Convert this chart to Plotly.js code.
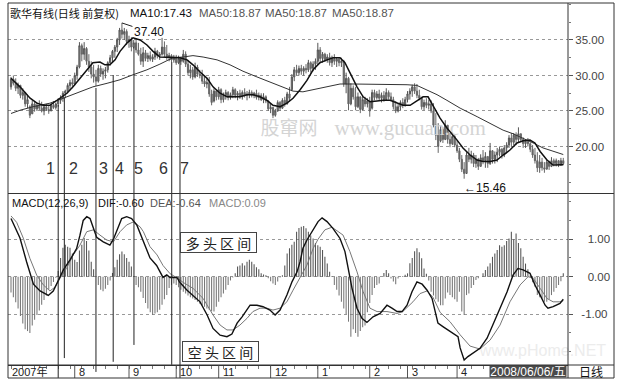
<!DOCTYPE html>
<html>
<head>
<meta charset="utf-8">
<script src="https://cdn.plot.ly/plotly-3.0.1.min.js"></script>
<style>html,body{margin:0;padding:0;background:#fff}#chart{width:617px;height:387px}</style>
</head>
<body>
<div id="chart"></div>
<script>
// ---------------- DATA ----------------
// daily candles, index 0 = late June 2007 ... index 234 = 2008/06/06
const openP = [
28.4,29.5,28.9,28.2,28.6,27.2,27.6,26.0,25.6,24.6,
26.0,25.3,25.8,25.4,25.0,25.6,25.2,25.0,25.8,25.5,
26.0,26.5,26.8,27.5,27.8,28.6,29.0,28.8,30.0,31.2,
34.2,33.0,33.8,32.0,31.2,30.2,29.8,29.2,31.0,30.2,
30.6,30.8,31.8,32.5,33.4,34.0,35.0,36.4,35.8,36.2,
34.8,35.0,34.0,34.6,33.6,33.0,32.0,33.2,32.4,32.8,
32.3,32.6,33.4,32.8,33.0,34.0,33.0,32.6,32.8,32.2,
32.6,31.8,32.4,32.0,33.0,31.6,30.4,30.8,29.8,31.2,
30.2,30.0,29.2,28.8,29.0,27.4,26.4,27.8,27.0,28.0,
26.6,27.2,27.6,26.9,27.3,28.0,27.2,27.5,27.0,27.6,
27.2,27.4,27.6,27.2,27.5,26.9,27.2,26.6,27.0,26.4,
25.3,25.5,24.4,25.0,26.2,25.4,26.5,26.0,27.4,28.0,
29.8,30.8,30.4,31.0,30.6,31.0,30.8,31.8,31.0,31.6,
32.0,33.6,32.4,33.0,32.2,32.6,31.8,32.4,32.0,32.3,
31.8,32.0,28.8,29.6,26.0,28.2,27.0,25.6,27.0,25.2,
26.6,26.0,26.4,25.4,27.6,26.9,27.4,26.8,27.2,26.6,
27.6,27.0,26.6,25.6,25.0,25.6,26.2,25.8,26.6,27.4,
27.8,28.4,27.8,27.2,26.8,25.6,26.2,25.8,26.0,25.0,
23.0,21.6,20.8,22.4,21.0,23.0,21.0,20.4,21.4,20.2,
19.4,18.2,16.8,16.2,18.8,18.2,18.8,17.6,18.2,17.2,
18.4,18.0,18.6,17.6,19.4,18.2,18.8,19.2,19.6,18.8,
19.8,20.2,21.2,20.6,21.6,21.0,21.8,21.0,20.4,20.8,
20.4,19.6,18.8,18.0,17.0,17.8,17.0,16.8,17.8,17.2,
18.0,17.6,18.0,17.4,18.0];
const highP = [
29.8,30.0,29.6,29.0,28.7,28.2,27.7,27.3,25.8,26.5,
26.4,26.2,26.5,26.3,25.9,26.0,25.8,26.1,26.4,26.2,
26.8,27.2,27.8,28.0,28.9,29.4,29.6,30.4,31.5,34.7,
34.5,34.7,34.0,33.0,32.0,31.5,30.8,31.5,31.4,31.0,
31.2,32.0,32.9,33.6,34.3,35.3,36.7,37.4,36.7,36.5,
35.6,35.4,35.0,35.2,34.6,33.9,34.0,33.6,33.2,33.4,
33.0,33.9,33.6,33.3,35.3,34.8,34.3,33.2,33.0,32.9,
32.9,32.8,32.6,33.6,33.4,32.2,31.5,31.2,31.8,31.5,
30.8,30.8,30.0,29.6,29.8,28.0,28.2,28.0,28.4,28.2,
27.6,28.0,27.8,27.6,28.4,28.2,27.8,28.0,27.9,28.2,
27.8,28.0,27.9,27.7,28.0,27.6,27.5,27.5,27.2,26.5,
26.0,25.6,25.3,26.5,26.4,26.8,27.0,27.7,28.4,30.2,
31.2,31.5,31.4,31.5,31.3,31.6,32.2,32.0,32.0,32.4,
34.6,34.0,33.3,33.2,33.0,33.2,32.8,33.0,32.6,32.6,
32.5,32.2,30.4,29.8,28.9,28.6,28.4,27.6,27.0,27.2,
27.0,26.8,27.0,28.0,28.0,27.8,28.0,27.6,27.8,28.2,
27.9,27.6,27.0,26.4,26.0,26.5,26.8,27.0,27.8,28.2,
28.7,28.9,28.8,28.0,27.0,26.6,26.8,26.6,26.5,26.1,
24.7,23.3,22.9,22.7,23.7,23.0,21.9,22.0,21.6,20.9,
19.8,18.8,17.8,19.2,19.8,19.4,19.1,18.8,18.4,18.9,
19.5,19.2,18.6,20.5,19.5,19.3,19.8,20.0,19.8,20.2,
20.6,21.6,21.9,21.9,22.0,22.7,21.8,21.3,21.0,21.2,
20.6,20.2,19.8,19.2,18.8,18.4,17.8,18.2,18.0,18.5,
18.3,18.3,18.1,18.4,18.4];
const lowP = [
28.0,28.6,27.8,27.4,26.8,26.6,25.6,25.4,24.0,24.6,
24.9,25.0,25.1,24.8,24.4,25.0,24.6,25.0,25.3,25.2,
25.6,26.0,26.3,26.8,27.5,27.9,28.2,28.6,29.4,31.0,
32.0,32.2,31.5,30.5,29.6,29.0,28.5,29.0,29.8,29.4,
29.6,30.4,31.4,31.9,32.5,33.3,34.3,35.2,35.0,34.3,
33.9,33.4,33.8,33.2,32.8,31.5,31.2,32.0,31.9,32.0,
31.9,32.2,32.4,32.2,32.8,32.6,32.2,32.0,31.9,31.8,
31.5,31.6,31.5,31.8,31.2,30.0,29.6,29.4,29.6,29.8,
29.6,28.8,28.4,28.2,27.0,25.8,26.2,26.5,26.6,26.1,
26.2,26.6,26.5,26.6,26.8,26.8,26.5,26.7,26.6,26.9,
26.5,26.8,26.9,26.8,26.6,26.5,26.4,26.1,26.1,25.0,
24.7,24.0,24.2,24.9,25.0,25.3,25.6,25.9,26.3,27.8,
29.2,30.0,30.0,30.1,30.0,30.3,30.5,30.4,30.6,30.8,
31.5,31.9,31.8,31.9,31.8,31.4,31.2,31.5,31.2,31.3,
31.2,28.4,27.5,25.1,25.8,26.6,25.1,25.4,24.7,25.1,
25.6,25.5,24.2,25.2,26.5,26.6,26.4,26.2,26.3,26.5,
26.6,26.4,25.2,24.7,24.8,25.1,25.4,25.6,26.2,26.6,
27.0,27.4,26.8,26.5,25.2,25.1,25.4,25.2,24.7,22.7,
20.9,19.1,20.6,20.5,20.9,20.4,19.9,20.2,19.9,19.1,
17.8,16.4,15.46,16.2,17.8,17.6,17.1,17.0,16.7,17.2,
17.5,17.0,17.0,17.4,17.6,17.6,17.8,18.6,18.3,18.5,
19.0,19.8,19.9,20.2,20.2,20.5,20.6,19.8,19.8,20.0,
19.2,18.4,17.6,16.4,16.3,16.6,16.3,16.8,16.7,17.1,
17.2,17.2,17.1,17.3,17.4];
const closeP = [
29.5,28.9,28.2,28.6,27.2,27.6,26.0,26.6,24.4,26.0,
25.3,25.8,25.4,25.0,25.6,25.2,25.0,25.8,25.5,26.0,
26.5,26.8,27.5,27.8,28.6,29.0,28.8,30.0,31.2,34.2,
33.0,33.8,32.0,31.2,30.2,29.8,29.2,31.0,30.2,30.6,
30.8,31.8,32.5,33.4,34.0,35.0,36.4,35.8,36.2,34.8,
35.0,34.0,34.6,33.6,33.0,32.0,33.2,32.4,32.8,32.3,
32.6,33.4,32.8,33.0,34.0,33.0,32.6,32.8,32.2,32.6,
31.8,32.4,32.0,33.0,31.6,30.4,30.8,29.8,31.2,30.2,
30.0,29.2,28.8,29.0,27.4,26.2,27.8,27.0,28.0,26.6,
27.2,27.6,26.9,27.3,28.0,27.2,27.5,27.0,27.6,27.2,
27.4,27.6,27.2,27.5,26.9,27.2,26.6,27.0,26.4,25.3,
25.5,24.4,25.0,26.2,25.4,26.5,26.0,27.4,26.8,29.8,
30.8,30.4,31.0,30.6,31.0,30.8,31.8,31.0,31.6,32.0,
33.6,32.4,33.0,32.2,32.6,31.8,32.4,32.0,32.3,31.8,
32.0,28.8,29.6,26.0,28.2,27.0,25.6,27.0,25.2,26.6,
26.0,26.4,25.0,27.6,26.9,27.4,26.8,27.2,26.6,27.6,
27.0,26.6,25.6,25.0,25.6,26.2,25.8,26.6,27.4,27.8,
28.4,27.8,27.2,26.8,25.6,26.2,25.8,26.0,25.0,23.0,
21.6,20.0,22.4,21.0,23.0,21.0,20.4,21.4,20.2,19.4,
18.2,16.8,16.2,18.8,18.2,18.8,17.6,18.2,17.2,18.4,
18.0,18.6,17.6,19.4,18.2,18.8,19.2,19.6,18.8,19.8,
20.2,21.2,20.6,21.6,21.0,21.8,21.0,20.4,20.8,20.4,
19.6,18.8,18.0,17.0,17.8,17.0,16.8,17.8,17.2,18.0,
17.6,18.0,17.4,18.0,17.6];

// moving averages (index, value)
const ma10X = [0,3.8,8.1,11,13.6,16.5,18.6,20.8,23.7,26.3,29.2,32.2,34.7,37.7,39.8,41.9,44.1,46.2,49.2,51.7,54.7,57.6,60.2,63.1,67.4,71.6,74.6,77.1,80.1,83.1,85.6,88.6,91.5,94.1,97,100,102.5,105.5,108.5,111,114,116.9,119.5,122.5,125.4,128,130.9,133.9,136.4,139.4,141.5,143.6,146.6,149.2,152.1,155.1,157.6,160.6,163.6,166.1,169.1,172,174.6,176.7,178.8,181.8,184.7,187.3,189,191.5,194.5,197.5,200,203,205.9,208.5,211.4,214.4,217,219.9,222,224.2,227.1,229.7,232.6,234];
const ma10Y = [29.6,28.4,26.8,26.1,25.8,25.8,26.3,26.8,27.5,28.4,29.6,30.8,31.8,31.9,31.5,31.5,32.2,33.4,34.6,35.3,35.0,34.3,33.4,32.6,32.5,32.5,32.2,31.5,30.5,29.6,28.4,27.5,27.0,27.0,27.0,27.3,27.3,27.0,26.5,25.8,25.6,26.1,26.8,28.0,29.3,30.8,31.8,32.2,32.5,32.5,31.8,30.4,28.4,27.0,26.3,26.4,26.5,26.5,26.1,25.8,25.8,26.5,27.0,27.0,25.8,24.0,22.6,21.6,20.9,19.8,18.8,18.1,17.9,17.9,18.1,18.8,19.5,20.5,20.8,20.9,20.5,19.3,18.1,17.4,17.4,17.43];
const ma50X = [0,3.8,9.3,16.5,23.7,29.2,34.7,40.7,46.2,51.7,57.6,63.1,68.6,72.9,77.1,81.4,87.3,92.8,98.3,104.2,109.7,115.3,119.5,123.7,128,133.9,139.4,144.9,150.8,156.4,161.9,167.8,172,176.3,180.5,184.7,190.3,197.5,203,208.5,212.7,217,221.2,225.4,229.7,234];
const ma50Y = [24.65,25.1,25.6,26.1,27.0,27.7,28.4,28.9,29.4,30.1,30.8,31.6,32.5,32.6,32.8,32.6,32.2,31.5,30.6,29.8,29.1,28.4,27.8,27.7,28.0,28.4,28.8,28.8,28.8,28.7,28.8,28.7,28.6,28.0,27.3,26.5,25.4,24.2,23.3,22.3,21.8,21.2,20.5,19.8,19.3,18.87];

// MACD(12,26,9)
const macdHist = [
-0.42,-0.55,-0.68,-0.85,-1.05,-1.25,-1.4,-1.45,-1.5,-1.3,
-1.15,-1.02,-0.9,-0.75,-0.62,-0.5,-0.35,-0.25,-0.14,-0.03,
0.15,0.5,0.77,0.85,0.8,0.77,0.62,0.45,0.39,0.7,
0.85,1.03,0.95,0.7,0.4,0.2,0.02,-0.22,-0.35,-0.39,
-0.32,-0.22,-0.1,0.1,0.25,0.45,0.6,0.67,0.6,0.5,
0.4,0.27,0.02,-0.22,-0.28,-0.4,-0.57,-0.7,-0.85,-0.95,
-1.02,-0.98,-0.95,-0.88,-0.75,-0.6,-0.49,-0.3,-0.22,-0.18,
-0.22,-0.28,-0.35,-0.4,-0.45,-0.5,-0.55,-0.58,-0.62,-0.67,
-0.72,-0.76,-0.8,-0.85,-0.88,-0.92,-0.93,-0.8,-0.67,-0.55,
-0.45,-0.35,-0.22,-0.1,-0.02,0.09,0.27,0.3,0.36,0.3,
0.4,0.45,0.4,0.33,0.25,0.2,0.09,0.06,0.04,-0.04,
-0.12,-0.18,-0.22,-0.13,-0.02,0.04,0.3,0.62,0.76,0.85,
0.93,1.2,1.3,1.33,1.35,1.29,1.2,1.1,1.02,0.9,
0.84,0.8,0.71,0.53,0.35,0.13,0.02,-0.22,-0.35,-0.5,
-0.67,-0.85,-1.0,-1.2,-1.6,-1.4,-1.5,-1.6,-1.45,-1.35,
-1.3,-0.95,-0.7,-0.49,-0.3,-0.22,-0.18,0.0,0.1,0.18,
0.09,-0.05,-0.13,-0.2,-0.05,0.0,0.02,0.05,0.09,0.36,
0.5,0.68,0.76,0.65,0.49,0.22,0.08,-0.1,-0.4,-0.5,
-0.6,-0.67,-0.76,-0.76,-0.58,-0.42,-0.49,-0.55,-0.6,-0.67,
-0.4,-0.93,-1.02,-0.49,-0.45,-0.3,-0.22,-0.09,-0.04,0.0,
0.09,0.18,0.27,0.36,0.53,0.62,0.71,0.84,0.8,0.84,
0.95,1.02,1.2,1.0,1.15,0.9,0.76,0.53,0.35,0.2,
0.04,-0.15,-0.27,-0.49,-0.55,-0.58,-0.67,-0.67,-0.6,-0.49,
-0.4,-0.3,-0.22,-0.12,0.09];
const difX = [0,3.8,6.6,9.5,12.3,15.8,17.9,20,22.2,25,27.8,29.2,30.6,32.1,33.5,34.9,36.3,39.1,41.9,43.4,44.8,46.9,49,51.1,53.3,56.1,58.9,61.7,63.1,64.4,66,67.4,70.3,71.5,74.6,77.1,80.1,83.1,85.6,88.6,91.5,93.6,95.8,97.9,100,101.3,104.2,106.8,109.7,111.9,114,116.9,119.1,121.2,122.5,123.7,125.4,128,130.1,131.8,133.9,136.4,139.4,141.5,142.8,144.5,146.6,148.7,150.8,152.1,153.4,156.4,159.3,161.4,163.6,165.7,167.8,169.9,172,174.2,176.3,178.4,179.7,180.9,183,185.2,187.3,189.4,190.3,192,193.6,196.6,198.7,201.7,204.2,207.2,210.2,212.7,214.8,217,219.9,222,224.2,226.3,227.5,229.7,232.6,234];
const difY = [1.55,1.03,0.4,-0.2,-0.38,-0.5,-0.38,-0.1,0.18,0.45,0.75,1.1,1.5,1.6,1.55,1.3,1.05,0.93,0.84,1.0,1.2,1.55,1.6,1.55,1.38,0.93,0.5,0.3,0.15,-0.02,0.05,-0.02,-0.02,-0.15,-0.36,-0.49,-0.67,-1.02,-1.38,-1.56,-1.6,-1.53,-1.24,-1.07,-0.89,-0.76,-0.76,-0.8,-0.89,-1.02,-0.89,-0.49,-0.13,0.13,0.4,0.76,0.98,1.24,1.47,1.57,1.47,1.29,1.02,0.67,0.22,-0.31,-0.84,-1.11,-1.22,-1.15,-1.07,-0.98,-0.76,-0.84,-0.93,-0.93,-0.76,-0.4,-0.14,-0.2,-0.36,-0.58,-0.93,-1.24,-1.33,-1.42,-1.5,-1.6,-1.9,-2.22,-2.13,-2.0,-1.91,-1.64,-1.29,-0.84,-0.4,0.04,0.22,0.18,0.09,-0.22,-0.49,-0.76,-0.84,-0.8,-0.71,-0.6];
const deaX = [0,2.4,5.2,8.0,10.9,13.7,16.5,18.6,20.7,23.5,26.4,29.2,32.1,34.9,37.7,40.5,43.4,46.2,49,51.8,54.7,56.1,58.9,61.9,64.4,67.4,70.3,72.9,77.1,81.4,85.6,88.6,91.5,94.1,97,100,102.5,105.5,108.5,111,114,116.9,119.5,122.5,125.4,128,130.1,133,136,140.7,143.6,146.6,149.2,152.1,155.1,159.3,163.6,166,170.3,173.3,176.3,178.8,181.8,186,190.3,194.5,198.7,203,207.2,211.4,215.7,219.1,221.2,224.2,227.1,229.7,232.6,234];
const deaY = [1.62,1.45,1.03,0.49,0.04,-0.22,-0.38,-0.28,-0.05,0.22,0.58,0.84,1.2,1.25,1.11,0.98,0.93,1.2,1.38,1.46,1.33,1.2,0.8,0.58,0.3,0.08,-0.03,-0.15,-0.31,-0.58,-1.02,-1.29,-1.42,-1.42,-1.29,-1.11,-0.93,-0.84,-0.84,-0.89,-0.84,-0.67,-0.36,0,0.31,0.75,1.0,1.25,1.32,1.11,0.67,0.13,-0.4,-0.84,-0.93,-0.93,-0.98,-0.93,-0.67,-0.45,-0.38,-0.55,-0.95,-1.2,-1.55,-1.85,-1.93,-1.69,-1.29,-0.67,-0.22,0,-0.04,-0.31,-0.58,-0.67,-0.67,-0.64];

// axis / calendar labels
const monthIdx  = [0, 27, 50, 70, 88, 110, 130, 152, 168, 189];
const monthText = ['2007年','8','9','10','11','12','1','2','3','4'];
const lastDateText = '2008/06/06/五';
const priceTicks = [20, 25, 30, 35];
const macdTicks  = [-1, 0, 1];

// marked extremes
const highIdx = 47, highVal = 37.40;
const lowIdx = 192, lowVal = 15.46;

// numbered signal lines: day index, top (price), bottom (MACD units)
const signalIdx    = [20.0, 22.6, 36.0, 43.3, 52.1, 68.1, 71.6];
const signalTop    = [25.85, 26.83, 28.24, 30.07, 34.01, 31.9, 32.5];
const signalBottom = [-2.70, -2.17, -2.54, -2.27, -1.82, -2.35, -2.70];
const signalText   = ['1','2','3','4','5','6','7'];

// ---------------- STYLE / LAYOUT ----------------
const FONT = 'Arial, "Liberation Sans", "Noto Sans CJK SC", sans-serif';
const CJK = '"Noto Sans CJK SC", "Noto Sans CJK TC", sans-serif';
const SERIF = '"Liberation Serif", "DejaVu Serif", serif';
const M = {l:8, r:49, t:3, b:9};
const PW = 617 - M.l - M.r, PH = 387 - M.t - M.b;
const px = x => (x - M.l) / PW;          // layout helper: pixel -> paper x
const py = y => (387 - M.b - y) / PH;    // layout helper: pixel -> paper y
const priceRange = [13.38, 40.21];
const macdRange = [-2.355, 2.219];
const splitY = py(193.5), dateTop = py(365);
const signalLabelShift = [-8, 9, 8, 6, 5, -8, 5];

const idx = closeP.map((_, i) => i);
const last = a => a[a.length - 1];

const traces = [
  {type:'scatter', mode:'text', x:[117.8], y:[22.3], text:['股窜网'], xaxis:'x', yaxis:'y',
   textfont:{family:CJK, size:19, color:'#d4d4d4'}, hoverinfo:'skip', cliponaxis:false},
  {type:'scatter', mode:'text', x:[169.1], y:[22.3], text:['www.gucuan.com'], xaxis:'x', yaxis:'y',
   textfont:{family:SERIF, size:21, color:'#d4d4d4'}, hoverinfo:'skip', cliponaxis:false},
  {type:'scatter', mode:'text', x:[225.4], y:[-2.0], text:['www.pHome.NET'], xaxis:'x', yaxis:'y2',
   textfont:{family:FONT, size:16, color:'#ececec'}, hoverinfo:'skip', cliponaxis:false},
  {type:'candlestick', x:idx, open:openP, high:highP, low:lowP, close:closeP, xaxis:'x', yaxis:'y',
   increasing:{line:{color:'#555', width:1}, fillcolor:'#999'},
   decreasing:{line:{color:'#666', width:1}, fillcolor:'#666'},
   whiskerwidth:0, hoverinfo:'skip'},
  {type:'scatter', mode:'lines', x:ma50X, y:ma50Y, xaxis:'x', yaxis:'y',
   line:{color:'#333', width:1}, hoverinfo:'skip'},
  {type:'scatter', mode:'lines', x:ma10X, y:ma10Y, xaxis:'x', yaxis:'y',
   line:{color:'#111', width:1.5}, hoverinfo:'skip'},
  {type:'bar', x:idx, y:macdHist, xaxis:'x', yaxis:'y2', width:0.45,
   marker:{color:macdHist.map(v => v >= 0 ? '#555' : '#777'), line:{width:0}}, hoverinfo:'skip'},
  {type:'scatter', mode:'lines', x:deaX, y:deaY, xaxis:'x', yaxis:'y2',
   line:{color:'#777', width:1}, hoverinfo:'skip'},
  {type:'scatter', mode:'lines', x:difX, y:difY, xaxis:'x', yaxis:'y2',
   line:{color:'#111', width:1.4}, hoverinfo:'skip'}
];

const shapes = [];
// signal lines
signalIdx.forEach((s, k) => {
  shapes.push({type:'line', xref:'x', yref:'y', x0:s, x1:s, y0:signalTop[k], y1:priceRange[0],
               line:{color:'#222', width:1}});
  const frac = (signalBottom[k] - macdRange[0]) / (macdRange[1] - macdRange[0]);
  shapes.push({type:'line', xref:'x', yref:'y2 domain', x0:s, x1:s, y0:1, y1:frac,
               line:{color:'#222', width:1}});
});
// month separators in the date row
monthIdx.slice(1).forEach(m => {
  shapes.push({type:'line', xref:'x', yref:'paper', x0:m, x1:m, y0:0, y1:dateTop,
               line:{color:'#555', width:1}});
});
// frames
const rightEdge = px(614);
shapes.push({type:'rect', xref:'paper', yref:'paper', x0:0, x1:rightEdge, y0:0, y1:1, line:{color:'#333', width:1}});
shapes.push({type:'line', xref:'paper', yref:'paper', x0:1, x1:1, y0:0, y1:1, line:{color:'#333', width:1}});
shapes.push({type:'line', xref:'paper', yref:'paper', x0:0, x1:rightEdge, y0:splitY, y1:splitY, line:{color:'#333', width:1}});
shapes.push({type:'line', xref:'paper', yref:'paper', x0:0, x1:rightEdge, y0:dateTop, y1:dateTop, line:{color:'#333', width:1}});

const ann = [];
const txt = (text, x, y, color, size, family, extra) => Object.assign({
  text, xref:'paper', yref:'paper', x:px(x), y:py(y), xanchor:'left', yanchor:'middle',
  showarrow:false, font:{family:family || FONT, size:size || 11, color:color || '#111'}
}, extra || {});
// price panel header
ann.push(txt('歌华有线(日线 前复权)', 8, 13, '#111', 11, CJK));
ann.push(txt('MA10:' + last(ma10Y).toFixed(2), 128, 13, '#111', 11.5));
ann.push(txt('MA50:' + last(ma50Y).toFixed(2), 197, 13, '#555', 11.5));
ann.push(txt('MA50:' + last(ma50Y).toFixed(2), 263, 13, '#555', 11.5));
ann.push(txt('MA50:' + last(ma50Y).toFixed(2), 330, 13, '#555', 11.5));
// MACD header
ann.push(txt('MACD(12,26,9)', 10, 203, '#111', 11));
ann.push(txt('DIF:' + last(difY).toFixed(2), 96, 203, '#111', 11));
ann.push(txt('DEA:' + last(deaY).toFixed(2), 148, 203, '#555', 11));
ann.push(txt('MACD:' + last(macdHist).toFixed(2), 207, 203, '#888', 11));
// extremes
ann.push({text:highVal.toFixed(2), xref:'x', yref:'y', x:highIdx, y:highVal, showarrow:true,
  arrowhead:0, arrowwidth:1, arrowcolor:'#222', ax:27, ay:9, standoff:0,
  font:{family:FONT, size:12, color:'#111'}});
ann.push({text:'←' + lowVal.toFixed(2), xref:'x', yref:'y', x:lowIdx, y:lowVal, showarrow:false,
  xanchor:'left', yanchor:'top', xshift:-2, yshift:0, font:{family:FONT, size:12, color:'#111'}});
// signal numbers
signalIdx.forEach((s, k) => {
  ann.push({text:signalText[k], xref:'x', yref:'y', x:s, y:16.95, xshift:signalLabelShift[k],
    showarrow:false, font:{family:FONT, size:16, color:'#333'}});
});
// zone boxes
ann.push({text:'多 头 区 间', xref:'x', yref:'y2', x:87.9, y:0.91, showarrow:false,
  width:73, height:17, borderpad:1, bordercolor:'#444', borderwidth:1, bgcolor:'#fff',
  font:{family:CJK, size:14, color:'#222'}});
ann.push({text:'空 头 区 间', xref:'x', yref:'y2', x:88.8, y:-2.0, showarrow:false,
  width:73, height:17, borderpad:1, bordercolor:'#444', borderwidth:1, bgcolor:'#fff',
  font:{family:CJK, size:14, color:'#222'}});
// date row
monthIdx.forEach((m, k) => {
  ann.push({text:monthText[k], xref:'x', yref:'paper', x:m, y:py(371.5), xanchor:'left', yanchor:'middle',
    xshift: k === 0 ? -1 : 2, showarrow:false, font:{family:FONT, size:11, color:'#222'}});
});
ann.push({text:lastDateText, xref:'paper', yref:'paper', x:1, y:py(371.5), xanchor:'right', yanchor:'middle',
  showarrow:false, bgcolor:'#4a4a4a', width:76, height:11, borderpad:0, xshift:-1,
  font:{family:FONT, size:12, color:'#fff'}});
ann.push({text:'日线', xref:'paper', yref:'paper', x:px(591), y:py(371.5), xanchor:'center', yanchor:'middle',
  showarrow:false, font:{family:CJK, size:12, color:'#111'}});

const layout = {
  width:617, height:387, margin:M, paper_bgcolor:'#fff', plot_bgcolor:'#fff',
  showlegend:false, hovermode:false, barmode:'overlay',
  xaxis:{range:[-1.27, 236], anchor:'y2', showgrid:false, zeroline:false, showline:true,
         linecolor:'#333', linewidth:1, ticks:'outside', ticklen:3, tickcolor:'#777', tick0:0, dtick:5,
         showticklabels:false, rangeslider:{visible:false}, fixedrange:true},
  yaxis:{domain:[splitY, 1], range:priceRange, side:'right', anchor:'x',
         tickmode:'array', tickvals:priceTicks, ticktext:priceTicks.map(v => v.toFixed(2)),
         ticks:'outside', ticklen:4, tickcolor:'#555',
         tickfont:{family:FONT, size:11.5, color:'#444'},
         showgrid:true, gridcolor:'#999', griddash:'dot', gridwidth:1, zeroline:false, showline:false,
         minor:{tickmode:'linear', tick0:0, dtick:2.5, ticks:'outside', ticklen:2, tickcolor:'#777', showgrid:false},
         fixedrange:true},
  yaxis2:{domain:[dateTop, splitY], range:macdRange, side:'right', anchor:'x',
         tickmode:'array', tickvals:macdTicks,
         ticktext:macdTicks.map(v => (v >= 0 ? '\u00a0\u00a0' : '') + v.toFixed(2)),
         ticks:'outside', ticklen:4, tickcolor:'#555', ticklabelstandoff:6,
         tickfont:{family:FONT, size:11.5, color:'#444'},
         showgrid:true, gridcolor:'#999', griddash:'dot', gridwidth:1, zeroline:false, showline:false,
         minor:{tickmode:'linear', tick0:0, dtick:0.5, ticks:'outside', ticklen:2, tickcolor:'#777', showgrid:false},
         fixedrange:true},
  shapes:shapes, annotations:ann
};

Plotly.newPlot('chart', traces, layout, {displayModeBar:false, staticPlot:true});
</script>
</body>
</html>
